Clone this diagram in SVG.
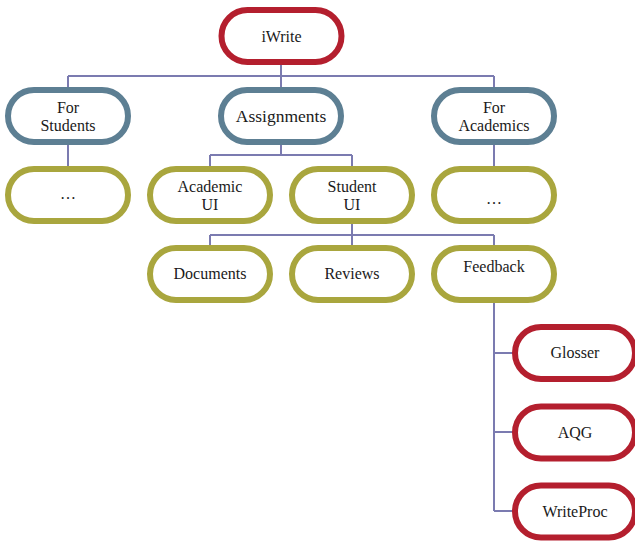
<svg xmlns="http://www.w3.org/2000/svg" width="635" height="542" viewBox="0 0 635 542">
<style>
.n{fill:#fff;stroke-width:6}
.r{stroke:#b41f2e}
.b{stroke:#5d7f93}
.o{stroke:#a9a63e}
.c{fill:none;stroke:#7b7bb0;stroke-width:2}
text{font-family:"Liberation Serif",serif;font-size:16px;fill:#1a1a1a;text-anchor:middle}
.big{font-size:17.5px}
</style>
<g id="connectors">
<path class="c" d="M281,62 V76 M68,76 H494 M68,76 V116 M281,76 V116 M494,76 V116"/>
<path class="c" d="M68,116 V195 M494,116 V195"/>
<path class="c" d="M281,116 V155 M210,155 H352 M210,155 V195 M352,155 V195"/>
<path class="c" d="M352,195 V235 M210,235 H494 M210,235 V274 M352,235 V274 M494,235 V274"/>
<path class="c" d="M494,274 V511 M494,353 H575 M494,432 H575 M494,511 H575"/>
</g>
<g id="iwrite"><rect class="n r" x="221.5" y="10" width="120" height="52" rx="26"/><text x="281.5" y="42">iWrite</text></g>
<g id="for-students"><rect class="n b" x="8" y="90" width="120" height="52" rx="26"/><text x="68" y="113">For</text><text x="68" y="131">Students</text></g>
<g id="assignments"><rect class="n b" x="221" y="90" width="120" height="52" rx="26"/><text class="big" x="281" y="122">Assignments</text></g>
<g id="for-academics"><rect class="n b" x="434" y="90" width="120" height="52" rx="26"/><text x="494" y="113">For</text><text x="494" y="131">Academics</text></g>
<g id="students-more"><rect class="n o" x="8" y="169" width="120" height="52" rx="26"/><text x="68" y="199">…</text></g>
<g id="academic-ui"><rect class="n o" x="150" y="169" width="120" height="52" rx="26"/><text x="210" y="192">Academic</text><text x="210" y="210">UI</text></g>
<g id="student-ui"><rect class="n o" x="292" y="169" width="120" height="52" rx="26"/><text x="352" y="192">Student</text><text x="352" y="210">UI</text></g>
<g id="academics-more"><rect class="n o" x="434" y="169" width="120" height="52" rx="26"/><text x="494" y="204">…</text></g>
<g id="documents"><rect class="n o" x="150" y="248" width="120" height="52" rx="26"/><text x="210" y="279">Documents</text></g>
<g id="reviews"><rect class="n o" x="292" y="248" width="120" height="52" rx="26"/><text x="352" y="279">Reviews</text></g>
<g id="feedback"><rect class="n o" x="434" y="248" width="120" height="52" rx="26"/><text x="494" y="272">Feedback</text></g>
<g id="glosser"><rect class="n r" x="515" y="327" width="120" height="52" rx="26"/><text x="575" y="358">Glosser</text></g>
<g id="aqg"><rect class="n r" x="515" y="406.5" width="120" height="52" rx="26"/><text x="575" y="438">AQG</text></g>
<g id="writeproc"><rect class="n r" x="515" y="485.5" width="120" height="52" rx="26"/><text x="575" y="517">WriteProc</text></g>
</svg>
